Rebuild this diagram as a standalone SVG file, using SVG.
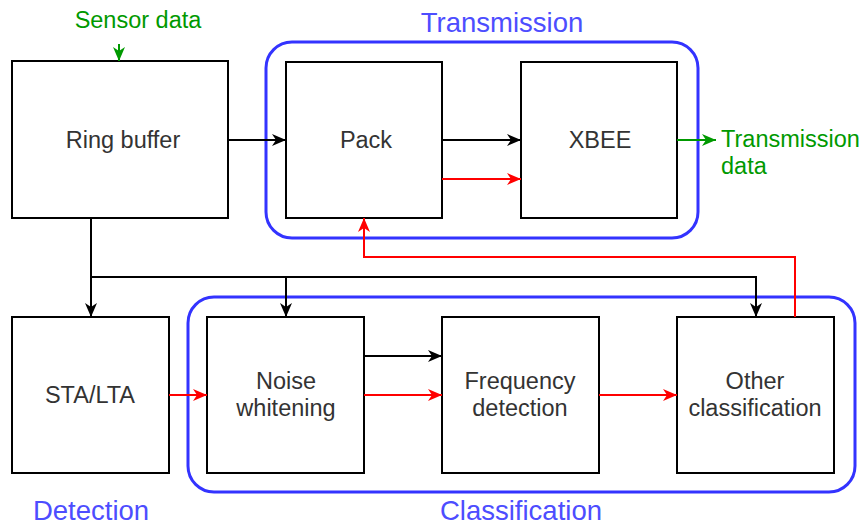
<svg xmlns="http://www.w3.org/2000/svg" width="866" height="527" viewBox="0 0 866 527">
<style>
.box{fill:#fff;stroke:#000;stroke-width:2}
.grp{fill:none;stroke:#3333ff;stroke-width:3}
.t{font-family:"Liberation Sans",Arial,sans-serif;font-size:23.5px;fill:#333;text-anchor:middle}
.blue{font-family:"Liberation Sans",Arial,sans-serif;font-size:27.5px;fill:#4d4dff;text-anchor:middle}
.green{font-family:"Liberation Sans",Arial,sans-serif;font-size:23.5px;fill:#009900}
.k{fill:none;stroke:#000;stroke-width:2}
.r{fill:none;stroke:#ff0000;stroke-width:2}
.g{fill:none;stroke:#009900;stroke-width:2}
</style>
<defs>
<marker id="ak" viewBox="0 0 14 12" refX="14" refY="6" markerWidth="14" markerHeight="12" markerUnits="userSpaceOnUse" orient="auto"><path d="M0,0 L14,6 L0,12 L4,6 Z" fill="#000"/></marker>
<marker id="ar" viewBox="0 0 14 12" refX="14" refY="6" markerWidth="14" markerHeight="12" markerUnits="userSpaceOnUse" orient="auto"><path d="M0,0 L14,6 L0,12 L4,6 Z" fill="#ff0000"/></marker>
<marker id="ag" viewBox="0 0 14 12" refX="14" refY="6" markerWidth="14" markerHeight="12" markerUnits="userSpaceOnUse" orient="auto"><path d="M0,0 L14,6 L0,12 L4,6 Z" fill="#009900"/></marker>
</defs>
<rect width="866" height="527" fill="#fff"/>
<g id="transmission-group">
<rect class="grp" x="266" y="42" width="432" height="196" rx="26"/>
<text class="blue" x="502" y="32">Transmission</text>
</g>
<g id="classification-group">
<rect class="grp" x="188" y="297" width="667" height="195" rx="26"/>
<text class="blue" x="521" y="520">Classification</text>
</g>
<g id="detection-label"><text class="blue" x="91" y="520">Detection</text></g>
<g id="sensor-label"><text class="green" x="138" y="28" text-anchor="middle">Sensor data</text></g>
<g id="transmission-data-label"><text class="green" x="721" y="147">Transmission</text><text class="green" x="721" y="174">data</text></g>
<g id="ring-buffer"><rect class="box" x="12" y="61" width="216" height="157"/><text class="t" x="123" y="148">Ring buffer</text></g>
<g id="pack"><rect class="box" x="286" y="62" width="156" height="156"/><text class="t" x="366" y="148">Pack</text></g>
<g id="xbee"><rect class="box" x="521" y="62" width="156" height="156"/><text class="t" x="600" y="148">XBEE</text></g>
<g id="sta-lta"><rect class="box" x="12" y="317" width="157" height="156"/><text class="t" x="90" y="403">STA/LTA</text></g>
<g id="noise-whitening"><rect class="box" x="207" y="317" width="157" height="156"/><text class="t" x="286" y="389">Noise</text><text class="t" x="286" y="416">whitening</text></g>
<g id="frequency-detection"><rect class="box" x="442" y="317" width="157" height="156"/><text class="t" x="520" y="389">Frequency</text><text class="t" x="520" y="416">detection</text></g>
<g id="other-classification"><rect class="box" x="677" y="317" width="157" height="156"/><text class="t" x="755" y="389">Other</text><text class="t" x="755" y="416">classification</text></g>
<g id="connectors">
<path class="g" d="M119,44 L119,61" marker-end="url(#ag)"/>
<path class="g" d="M677,140 L716,140" marker-end="url(#ag)"/>
<path class="k" d="M228,140 L286,140" marker-end="url(#ak)"/>
<path class="k" d="M442,140 L521,140" marker-end="url(#ak)"/>
<path class="r" d="M442,179 L521,179" marker-end="url(#ar)"/>
<path class="k" d="M91,218 L91,317" marker-end="url(#ak)"/>
<path class="k" d="M91,277 L286,277 L286,317" marker-end="url(#ak)"/>
<path class="k" d="M286,277 L756,277 L756,317" marker-end="url(#ak)"/>
<path class="r" d="M795,317 L795,257 L364,257 L364,218" marker-end="url(#ar)"/>
<path class="r" d="M169,395 L207,395" marker-end="url(#ar)"/>
<path class="k" d="M364,356 L442,356" marker-end="url(#ak)"/>
<path class="r" d="M364,395 L442,395" marker-end="url(#ar)"/>
<path class="r" d="M599,395 L677,395" marker-end="url(#ar)"/>
</g>
</svg>
